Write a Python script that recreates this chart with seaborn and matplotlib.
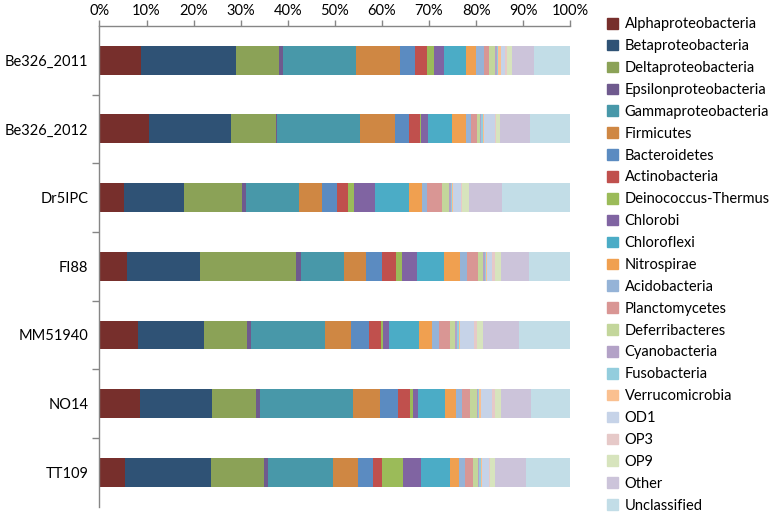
import matplotlib
matplotlib.use("Agg")
import matplotlib.pyplot as plt
import matplotlib.patches as mpatches
import numpy as np
import pandas as pd
import seaborn as sns

samples = ["Be326_2011", "Be326_2012", "Dr5IPC", "FI88", "MM51940", "NO14", "TT109"]

taxa = ["Alphaproteobacteria", "Betaproteobacteria", "Deltaproteobacteria",
        "Epsilonproteobacteria", "Gammaproteobacteria", "Firmicutes", "Bacteroidetes",
        "Actinobacteria", "Deinococcus-Thermus", "Chlorobi", "Chloroflexi", "Nitrospirae",
        "Acidobacteria", "Planctomycetes", "Deferribacteres", "Cyanobacteria",
        "Fusobacteria", "Verrucomicrobia", "OD1", "OP3", "OP9", "Other", "Unclassified"]

# percent per sample, same order as taxa
be326_2011 = [8.9, 20.1, 9.1, 0.8, 15.5, 9.4, 3.2, 2.6, 1.5, 2.0, 4.8, 2.1, 1.6, 1.2, 1.3, 0.3, 0.3, 0.5, 1.0, 0.4, 1.0, 4.6, 7.8]
be326_2012 = [10.5, 17.5, 9.4, 0.3, 17.7, 7.3, 3.1, 2.3, 0.2, 1.5, 5.0, 3.0, 1.2, 1.1, 0.7, 0.3, 0.3, 0.2, 2.5, 0.2, 0.8, 6.4, 8.5]
dr5ipc = [5.3, 12.6, 12.4, 0.9, 11.2, 4.8, 3.3, 2.3, 1.2, 4.6, 7.1, 2.8, 1.1, 3.1, 1.6, 0.3, 0.2, 0.3, 1.6, 0.3, 1.4, 7.1, 14.5]
fi88 = [5.9, 15.4, 20.4, 1.1, 9.1, 4.8, 3.3, 3.0, 1.2, 3.3, 5.7, 3.3, 1.6, 2.2, 1.2, 0.3, 0.2, 0.4, 0.9, 0.8, 1.1, 6.1, 8.7]
mm51940 = [8.2, 14.0, 9.1, 0.9, 15.7, 5.5, 3.8, 2.5, 0.5, 1.3, 6.4, 2.8, 1.4, 2.3, 1.2, 0.4, 0.3, 0.2, 3.0, 0.6, 1.4, 7.6, 10.9]
no14 = [8.7, 15.2, 9.4, 0.9, 19.6, 5.8, 3.8, 2.5, 0.7, 1.1, 5.7, 2.3, 1.3, 1.8, 1.3, 0.3, 0.3, 0.4, 2.3, 0.6, 1.3, 6.4, 8.3]
tt109 = [5.5, 18.1, 11.3, 0.8, 13.8, 5.4, 3.3, 1.9, 4.3, 3.9, 6.2, 1.9, 1.3, 1.6, 1.1, 0.3, 0.3, 0.2, 1.6, 0.2, 1.1, 6.4, 9.5]

colors = ["#772F2C", "#2F5275", "#8BA257", "#6F5A8E", "#4898A9", "#CF8743", "#5B8BC1",
          "#C0504D", "#9BBB59", "#8064A2", "#4BACC6", "#F0A050", "#95B3D7", "#D99694",
          "#C3D69B", "#B3A2C7", "#93CDDD", "#FAC090", "#C6D3E8", "#E6C9C8", "#D7E4BD",
          "#CCC4DA", "#C2DDE7"]

df = pd.DataFrame([be326_2011, be326_2012, dr5ipc, fi88, mm51940, no14, tt109],
                  index=samples, columns=taxa)
cum = df.cumsum(axis=1)

plt.rcParams["font.family"] = ["Lato", "DejaVu Sans"]
fig = plt.figure(figsize=(7.77, 5.18), dpi=100)
ax = fig.add_axes([0.128, 0.022, 0.606, 0.928])

# draw cumulative totals from the last taxon back to the first so each covers the next
for i in range(len(taxa) - 1, -1, -1):
    tmp = pd.DataFrame({"sample": samples, "value": cum[taxa[i]].values})
    sns.barplot(data=tmp, x="value", y="sample", order=samples, color=colors[i],
                orient="h", width=0.42, saturation=1, ax=ax, linewidth=0)

ax.set_xlim(0, 100)
ax.set_ylim(len(samples) - 0.5, -0.5)
ax.xaxis.tick_top()
ax.set_xticks(np.arange(0, 101, 10))
ax.set_xticklabels([f"{v}%" for v in range(0, 101, 10)], fontsize=10.5)
ax.set_xlabel("")
ax.set_ylabel("")
ax.tick_params(axis="x", colors="#868686", labelcolor="black", length=4, width=1, pad=2)
ax.tick_params(axis="y", which="major", length=0, labelsize=10.5, pad=8)
ax.set_yticks(np.arange(0.5, len(samples) - 0.5, 1), minor=True)
ax.tick_params(axis="y", which="minor", length=5, color="#868686", width=1)

for s in ["right", "bottom"]:
    ax.spines[s].set_visible(False)
for s in ["top", "left"]:
    ax.spines[s].set_color("#868686")
    ax.spines[s].set_linewidth(1)

handles = [mpatches.Patch(color=c, label=t) for t, c in zip(taxa, colors)]
ax.legend(handles=handles, loc="upper left", bbox_to_anchor=(1.066, 1.03), frameon=False,
          fontsize=10.5, handlelength=0.75, handleheight=0.75, handletextpad=0.45,
          labelspacing=0.54, borderaxespad=0)

fig.savefig("out.png", dpi=100)
